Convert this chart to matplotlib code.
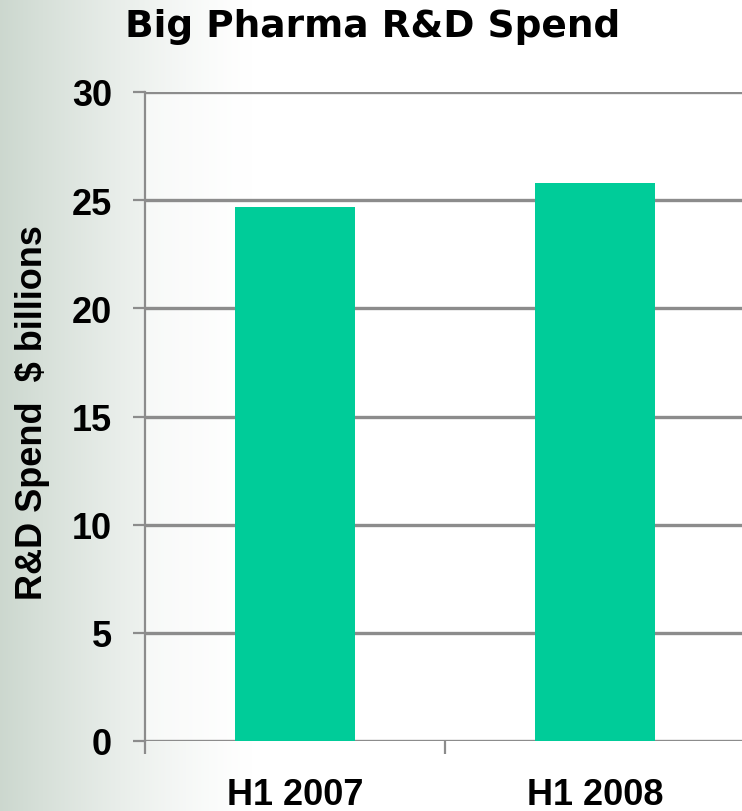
import numpy as np
import matplotlib.pyplot as plt
from matplotlib.ticker import FixedLocator, NullFormatter

# R&D spend of the big pharma companies, first half of each year
periods = ["H1 2007", "H1 2008"]
spend = [24.7, 25.8]          # $ billions
yticks = [0, 5, 10, 15, 20, 25, 30]

BAR = "#00CC99"
GRID = "#8C8C8C"
W, H = 742, 812

fig = plt.figure(figsize=(W / 100, H / 100), dpi=100)

# soft grey-green wash fading to white from the left edge
bg = fig.add_axes([0, 0, 1, 1], zorder=0)
xs = np.linspace(0, 1, W)
fade = np.clip(1 - xs / 0.34, 0, 1) ** 1.3
left = np.array([0.80, 0.845, 0.81])
row = 1 - fade[:, None] * (1 - left[None, :])
bg.imshow(np.repeat(row[None, :, :], 2, axis=0), aspect="auto",
          extent=[0, 1, 0, 1], interpolation="bilinear")
bg.set_axis_off()

ax = fig.add_axes([145 / W, 70 / H, 600 / W, 649 / H], zorder=1)
ax.set_facecolor((1, 1, 1, 0.55))

x = np.arange(len(periods))
ax.bar(x, spend, width=0.40, color=BAR, zorder=3)

ax.set_xlim(-0.5, len(periods) - 0.5)
ax.set_ylim(0, 30)
ax.set_yticks(yticks)
ax.yaxis.grid(True, color=GRID, linewidth=2.4, zorder=1)
ax.set_axisbelow(True)

# category boundaries get the tick marks, labels sit on the centres
ax.xaxis.set_major_locator(FixedLocator(np.arange(len(periods) + 1) - 0.5))
ax.xaxis.set_major_formatter(NullFormatter())
ax.set_xticks(x, minor=True)
ax.set_xticklabels(periods, minor=True)

for s in ["top", "right", "bottom"]:
    ax.spines[s].set_visible(False)
ax.spines["left"].set_color(GRID)
ax.spines["left"].set_linewidth(1.6)

tick_font = dict(family="Liberation Sans", weight="bold", size=26)
ax.tick_params(axis="y", length=8.6, width=1.6, color=GRID, pad=15)
ax.tick_params(axis="x", which="major", length=9.5, width=1.6, color=GRID)
ax.tick_params(axis="x", which="minor", length=0, pad=26)
for lab in ax.get_yticklabels() + ax.get_xticklabels(minor=True):
    lab.set_fontproperties(tick_font)

fig.text(373 / W, 1 - 37 / H, "Big Pharma R&D Spend", ha="center",
         va="baseline", family="DejaVu Sans", weight="bold", size=27)
fig.text(33 / W, 1 - 413 / H, "R&D Spend  $ billions", rotation=90,
         ha="center", va="center", family="Liberation Sans",
         weight="bold", size=26)

fig.savefig("out.png", dpi=100)
